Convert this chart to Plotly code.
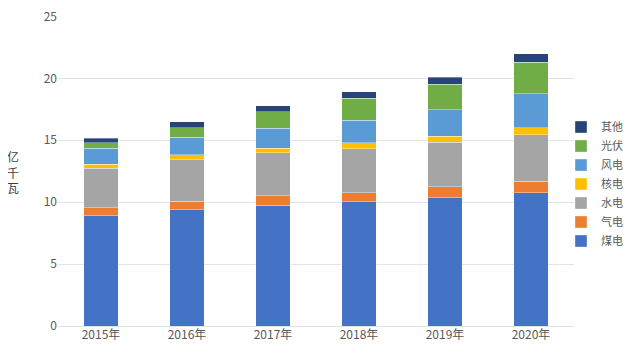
import plotly.graph_objects as go

years = ["2015年", "2016年", "2017年", "2018年", "2019年", "2020年"]
series_names = ["煤电", "气电", "水电", "核电", "风电", "光伏", "其他"]
coal    = [8.9, 9.4, 9.75, 10.03, 10.35, 10.75]
gas     = [0.65, 0.68, 0.75, 0.72, 0.89, 0.94]
hydro   = [3.2, 3.36, 3.5, 3.58, 3.6, 3.77]
nuclear = [0.3, 0.4, 0.35, 0.45, 0.48, 0.56]
wind    = [1.3, 1.42, 1.6, 1.82, 2.15, 2.75]
solar   = [0.44, 0.73, 1.34, 1.79, 2.03, 2.53]
other   = [0.38, 0.5, 0.5, 0.51, 0.6, 0.7]
y_ticks = [0, 5, 10, 15, 20, 25]

colors = ["#4472C4", "#ED7D31", "#A5A5A5", "#FFC000", "#5B9BD5", "#70AD47", "#264478"]
data = [coal, gas, hydro, nuclear, wind, solar, other]

# page body has an 8px margin; work in figure coordinates
W, H = 626, 355
L, R, T, B = 50, 0, 8, 37
pw = W - L - R
ph = H - T - B
plot_right = 566

fig = go.Figure()
for name, vals, c in zip(series_names, data, colors):
    fig.add_trace(go.Bar(
        x=years, y=vals, name=name, legendgroup=name,
        marker=dict(color=c, line=dict(color="rgba(255,255,255,0.6)", width=0.6)),
        width=0.4,
    ))

fig.update_layout(
    barmode="stack",
    width=W, height=H,
    margin=dict(l=L, r=R, t=T, b=B, autoexpand=False),
    paper_bgcolor="white", plot_bgcolor="white",
    font=dict(family="Noto Sans CJK SC, sans-serif", color="#595959", size=12),
    showlegend=True,
    legend=dict(
        x=(553 - L) / pw, xanchor="left", y=(H - B - 176) / ph, yanchor="middle",
        font=dict(size=11, color="#595959"),
        traceorder="reversed", tracegroupgap=5,
        itemwidth=30, bgcolor="rgba(0,0,0,0)",
    ),
    xaxis=dict(domain=[0, (plot_right - L) / pw], showgrid=False, showline=False, ticks="",
               tickfont=dict(size=12, color="#595959")),
    yaxis=dict(range=[0, 25.03], tickvals=y_ticks, showgrid=True, gridcolor="#E3E3E3",
               gridwidth=1, zeroline=True, zerolinecolor="#E3E3E3", zerolinewidth=1,
               showline=False, ticks="", ticklabeloverflow="allow",
               tickfont=dict(size=12, color="#595959")),
    annotations=[dict(text="亿<br>千<br>瓦", x=(5 - L) / pw, y=(H - B - 164) / ph,
                      xref="paper", yref="paper", xanchor="center", yanchor="middle",
                      showarrow=False, font=dict(size=12, color="#404040"))],
)

fig.write_html("out.html")
